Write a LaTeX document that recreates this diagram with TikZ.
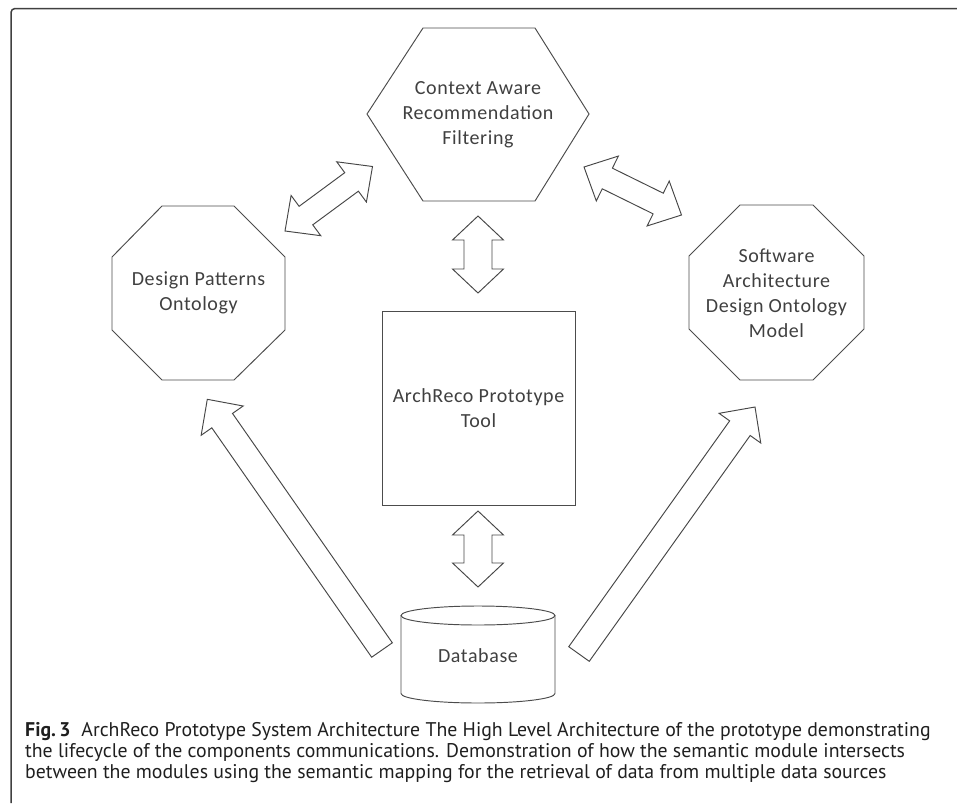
\documentclass[tikz,border=0pt]{standalone}
\usepackage{fontspec}
\setmainfont{Carlito}[LetterSpace=3]
\newfontfamily\capfont{PT Sans}
\usetikzlibrary{calc}

% Double-headed block arrow between two named points:
% #1, #2 tips; #3 shaft half width; #4 head half width; #5 head length
\newcommand\dblblock[5]{%
  \coordinate (bA) at ($(#1)!#5!(#2)$);
  \coordinate (bB) at ($(#2)!#5!(#1)$);
  \draw[blockarrow] (#1) -- ($(bA)!#4!90:(#2)$) -- ($(bA)!#3!90:(#2)$)
    -- ($(bB)!#3!-90:(#1)$) -- ($(bB)!#4!-90:(#1)$) -- (#2)
    -- ($(bB)!#4!90:(#1)$) -- ($(bB)!#3!90:(#1)$)
    -- ($(bA)!#3!-90:(#2)$) -- ($(bA)!#4!-90:(#2)$) -- cycle;}

% Single block arrow: #1 tail centre, #2 tip, then as above
\newcommand\oneblock[5]{%
  \coordinate (hB) at ($(#2)!#5!(#1)$);
  \draw[blockarrow] ($(#1)!#3!90:(#2)$) -- ($(hB)!#3!-90:(#1)$)
    -- ($(hB)!#4!-90:(#1)$) -- (#2) -- ($(hB)!#4!90:(#1)$)
    -- ($(hB)!#3!90:(#1)$) -- ($(#1)!#3!-90:(#2)$) -- cycle;}

\begin{document}
\begin{tikzpicture}[x=1pt,y=1pt,
  outline/.style={draw=black!70, line width=0.95pt, line join=miter, fill=white},
  blockarrow/.style={draw=black!72, line width=0.95pt, line join=miter, fill=white},
  label/.style={text=black!75, font=\fontsize{20}{25}\selectfont, align=center, inner sep=0pt},
  caption/.style={anchor=base west, inner sep=0pt, text=black!88,
    font=\capfont\fontsize{19.8}{21}\selectfont}]
\useasboundingbox (0,0) rectangle (957,-803);

% frame of the figure panel
\draw[draw=black!75, line width=1.5pt, rounded corners=4pt]
  (11,-803) -- (11,-8.5) -- (957,-8.5);

% Context Aware Recommendation Filtering (hexagon)
\draw[outline] (367,-114) -- (423,-28) -- (535,-28) -- (589,-114)
  -- (535,-201) -- (423,-201) -- cycle;
\node[label] (carf) at (478,-114.5) {Context Aware\\Recommendation\\Filtering};

% Design Patterns Ontology (octagon)
\draw[outline] (112,-257) -- (162,-206) -- (234,-206) -- (285,-257)
  -- (285,-330) -- (234,-380) -- (162,-380) -- (112,-330) -- cycle;
\node[label] (dpo) at (198.5,-293) {Design Patterns\\Ontology};

% Software Architecture Design Ontology Model (octagon)
\draw[outline] (689,-256) -- (740,-205) -- (813,-205) -- (864,-256)
  -- (864,-329) -- (813,-380) -- (740,-380) -- (689,-329) -- cycle;
\node[label] (sado) at (776.5,-293) {Software\\Architecture\\Design Ontology\\Model};

% ArchReco Prototype Tool (square)
\node[outline, label, minimum width=193pt, minimum height=194pt] (tool)
  at (478.5,-408) {ArchReco Prototype\\Tool};

% Database (cylinder)
\draw[outline] (401,-615.5) -- (401,-693.5)
  arc[start angle=180, end angle=360, x radius=77pt, y radius=9.5pt] -- (555,-615.5);
\draw[outline] (478,-615.5) ellipse [x radius=77pt, y radius=9.5pt];
\node[label] (db) at (478,-655.5) {Database};

% arrow end points
\coordinate (a1s) at (285,-231);   \coordinate (a1e) at (372.5,-166.5);
\coordinate (a2s) at (584,-167);   \coordinate (a2e) at (681.5,-215);
\coordinate (a3s) at (478,-216);   \coordinate (a3e) at (478,-293);
\coordinate (a4s) at (478,-511);   \coordinate (a4e) at (478,-587);
\coordinate (a5s) at (382,-650);   \coordinate (a5e) at (207.3,-399.3);
\coordinate (a6s) at (579,-654);   \coordinate (a6e) at (755,-407);

\dblblock{a1s}{a1e}{11.5pt}{25pt}{26pt}
\dblblock{a2s}{a2e}{11.5pt}{25pt}{26pt}
\dblblock{a3s}{a3e}{14pt}{25.5pt}{24pt}
\dblblock{a4s}{a4e}{14pt}{25.5pt}{24pt}
\oneblock{a5s}{a5e}{12.6pt}{25.6pt}{26pt}
\oneblock{a6s}{a6e}{12.6pt}{25.6pt}{26pt}

% caption
\node[caption] (cap1) at (25,-736) {\textbf{Fig.\,3}\hspace{0.55em}ArchReco Prototype System Architecture The High Level Architecture of the prototype demonstrating};
\node[caption] (cap2) at (25,-757) {the lifecycle of the components communications. Demonstration of how the semantic module intersects};
\node[caption] (cap3) at (25,-778) {between the modules using the semantic mapping for the retrieval of data from multiple data sources};
\end{tikzpicture}
\end{document}
